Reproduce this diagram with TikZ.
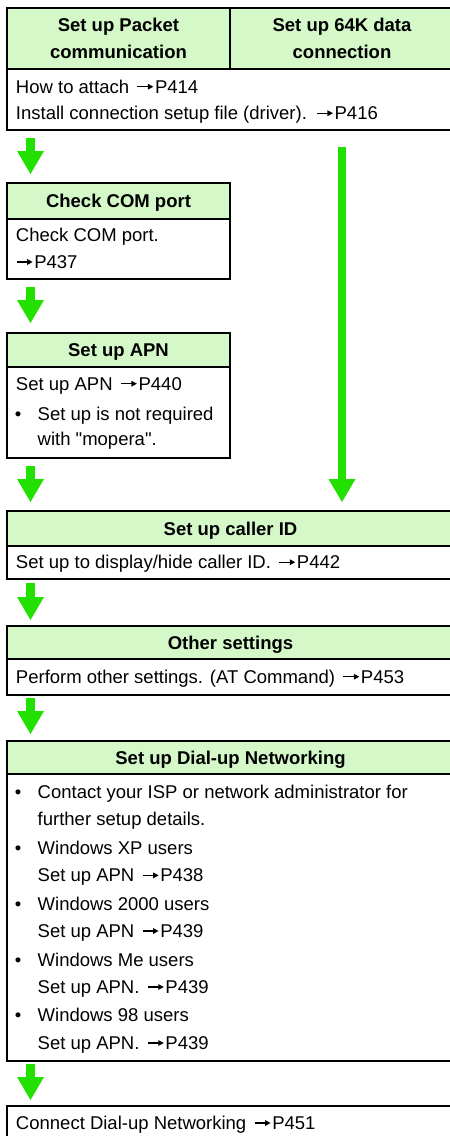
\documentclass[tikz,border=0pt]{standalone}
\usepackage{fontspec}
\setmainfont{Liberation Sans}
\usetikzlibrary{arrows.meta,calc}
\definecolor{hdr}{RGB}{212,248,200}
\definecolor{arr}{RGB}{34,224,0}
\newcommand{\pgarrow}{\hspace{2.5pt}\tikz[baseline=0pt]\draw[line width=1.3pt,-{Triangle[length=5.5pt 0 0,width=5.5pt 0 0]}] (0pt,6.3pt) -- (16pt,6.3pt);\hspace{1pt}}
\newcommand{\sq}{\XeTeXglyph\XeTeXcharglyph"22\relax}
\begin{document}
\begin{tikzpicture}[x=1pt,y=-1pt,
  frame/.style={rectangle,draw=black,line width=2.5pt,inner sep=0pt,outer sep=0pt,anchor=north west},
  hbox/.style={frame,fill=hdr,font=\bfseries\fontsize{18.5}{26.5}\selectfont,align=center},
  hone/.style={hbox,text height=13.2pt,text depth=0pt},
  bbox/.style={frame},
  txt/.style={anchor=base west,inner sep=0pt,outer sep=0pt,font=\fontsize{18.5}{22}\selectfont},
  flow/.style={draw=arr,line width=8.5pt,-{Triangle[width=27pt 0 0,length=23pt 0 0,line width=0pt]}}
]
\useasboundingbox (0,0) rectangle (450,1136);
% Box 1
\node[hbox,minimum width=223pt,minimum height=61pt] (h1a) at (7,8) {Set up Packet\\communication};
\node[hbox,minimum width=224pt,minimum height=61pt] (h1b) at (230,8) {Set up 64K data\\connection};
\node[bbox,minimum width=447pt,minimum height=61pt] (b1) at (7,69) {};
\node[txt] (t1a) at (16,93) {How to attach \pgarrow P414};
\node[txt] (t1b) at (16,119.5) {Install connection setup file (driver). \pgarrow P416};
% COM
\node[hone,minimum width=223pt,minimum height=36pt] (hcom) at (7,183) {Check COM port};
\node[bbox,minimum width=223pt,minimum height=60pt] (bcom) at (7,219) {};
\node[txt] (tcoma) at (16,241.7) {Check COM port.};
\node[txt] (tcomb) at (13.5,268.3) {\pgarrow P437};
% APN
\node[hone,minimum width=223pt,minimum height=34pt] (hapn) at (7,333) {Set up APN};
\node[bbox,minimum width=223pt,minimum height=91pt] (bapn) at (7,367) {};
\node[txt] (tapna) at (16,390) {Set up APN \pgarrow P440};
\node[txt] (bulapn) at (15,420) {•};
\node[txt] (tapnb) at (37.7,420) {Set up is not required};
\node[txt] (tapnc) at (37.7,445.5) {with \sq mopera\sq .};
% Caller ID
\node[hone,minimum width=447pt,minimum height=35pt] (hcid) at (7,511) {Set up caller ID};
\node[bbox,minimum width=447pt,minimum height=33pt] (bcid) at (7,546) {};
\node[txt] (tcid) at (16,568.5) {Set up to display/hide caller ID. \pgarrow P442};
% Other settings
\node[hone,minimum width=447pt,minimum height=33pt] (hoth) at (7,626) {Other settings};
\node[bbox,minimum width=447pt,minimum height=36pt] (both) at (7,659) {};
\node[txt] (toth) at (16,683) {Perform other settings. (AT Command) \pgarrow P453};
% Dial-up
\node[hone,minimum width=447pt,minimum height=33pt] (hdial) at (7,741) {Set up Dial-up Networking};
\node[bbox,minimum width=447pt,minimum height=287pt] (bdial) at (7,774) {};
\node[txt] (bd1) at (15,798.3) {•};
\node[txt] (td1a) at (37.7,798.3) {Contact your ISP or network administrator for};
\node[txt] (td1b) at (37.7,825) {further setup details.};
\node[txt] (bd2) at (15,854.3) {•};
\node[txt] (td2a) at (37.7,854.3) {Windows XP users};
\node[txt] (td2b) at (37.7,881.7) {Set up APN \pgarrow P438};
\node[txt] (bd3) at (15,910) {•};
\node[txt] (td3a) at (37.7,910) {Windows 2000 users};
\node[txt] (td3b) at (37.7,937.3) {Set up APN \pgarrow P439};
\node[txt] (bd4) at (15,966) {•};
\node[txt] (td4a) at (37.7,966) {Windows Me users};
\node[txt] (td4b) at (37.7,993.3) {Set up APN. \pgarrow P439};
\node[txt] (bd5) at (15,1021.7) {•};
\node[txt] (td5a) at (37.7,1021.7) {Windows 98 users};
\node[txt] (td5b) at (37.7,1049.3) {Set up APN. \pgarrow P439};
% Last
\node[bbox,minimum width=447pt,minimum height=60pt] (blast) at (7,1106) {};
\node[txt] (tlast) at (16,1129.3) {Connect Dial-up Networking \pgarrow P451};
% Arrows
\draw[flow] ($(b1.south west)+(23.5,8)$) -- ($(hcom.north west)+(23.5,-9)$);
\draw[flow] ($(bcom.south west)+(23.5,8)$) -- ($(hapn.north west)+(23.5,-10)$);
\draw[flow] ($(bapn.south west)+(23.5,8)$) -- ($(hcid.north west)+(23.5,-9)$);
\draw[flow] ($(h1b.south |- b1.south)+(0,17)$) -- ($(h1b.south |- hcid.north)+(0,-9)$);
\draw[flow] ($(bcid.south west)+(23.5,4)$) -- ($(hoth.north west)+(23.5,-6)$);
\draw[flow] ($(both.south west)+(23.5,3)$) -- ($(hdial.north west)+(23.5,-7)$);
\draw[flow] ($(bdial.south west)+(23.5,3)$) -- ($(blast.north west)+(23.5,-6)$);
\end{tikzpicture}
\end{document}
